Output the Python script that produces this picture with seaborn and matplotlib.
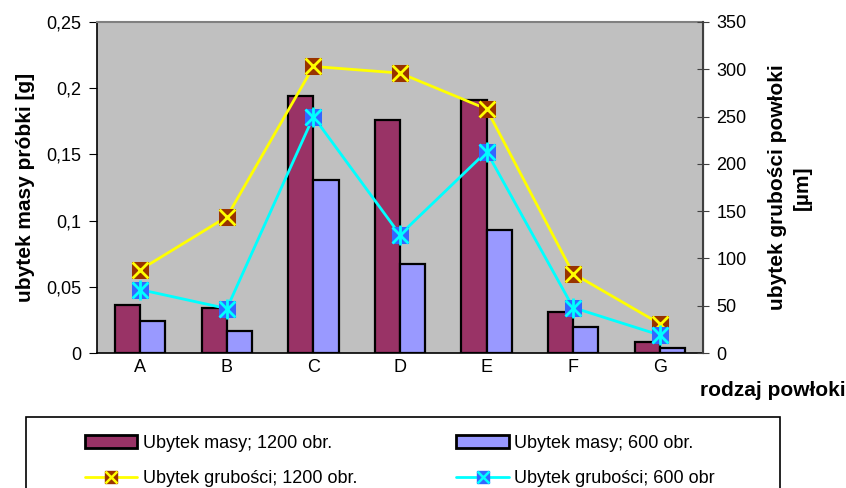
import numpy as np
import pandas as pd
import matplotlib
matplotlib.use("Agg")
import matplotlib.pyplot as plt
from matplotlib.lines import Line2D
from matplotlib.patches import Patch, Rectangle
from matplotlib.legend_handler import HandlerTuple
from matplotlib.ticker import FuncFormatter, MultipleLocator
import seaborn as sns

# data
categories = ["A", "B", "C", "D", "E", "F", "G"]
mass_1200 = [0.036, 0.034, 0.194, 0.176, 0.191, 0.031, 0.008]
mass_600 = [0.024, 0.0165, 0.131, 0.067, 0.093, 0.020, 0.004]
thick_1200 = [88, 144, 303, 296, 258, 84, 31]
thick_600 = [67, 47, 250, 125, 213, 48, 19]

lab_m1200 = "Ubytek masy; 1200 obr."
lab_m600 = "Ubytek masy; 600 obr."
lab_t1200 = "Ubytek grubości; 1200 obr."
lab_t600 = "Ubytek grubości; 600 obr"

sns.set_style("white")
plt.rcParams["font.family"] = ["Liberation Sans", "DejaVu Sans"]
plt.rcParams.update({"text.color": "black", "axes.labelcolor": "black",
                     "xtick.color": "black", "ytick.color": "black"})

df = pd.DataFrame({
    "cat": categories * 2,
    "val": mass_1200 + mass_600,
    "series": [lab_m1200] * len(categories) + [lab_m600] * len(categories),
})

fig = plt.figure(figsize=(8.46, 4.88), dpi=100)
ax = fig.add_axes([97 / 846, 1 - 353 / 488, (703 - 97) / 846, (353 - 22) / 488])
ax.set_facecolor("#C0C0C0")

sns.barplot(data=df, x="cat", y="val", hue="series", ax=ax,
            palette=["#993366", "#9999FF"], saturation=1, edgecolor="black",
            linewidth=1.6, width=0.58, gap=0, legend=False)

ax.set_xlim(-0.5, len(categories) - 0.5)
ax.set_ylim(0, 0.25)
ax.yaxis.set_major_locator(MultipleLocator(0.05))
ax.yaxis.set_major_formatter(FuncFormatter(lambda v, p: f"{v:g}".replace(".", ",")))
ax.set_xticks(np.arange(len(categories)))
ax.set_xticklabels(categories)
ax.set_xticks(np.arange(len(categories) + 1) - 0.5, minor=True)
ax.tick_params(axis="x", which="major", length=0, pad=4, labelsize=13)
ax.tick_params(axis="x", which="minor", length=6, direction="out", color="#404040")
ax.tick_params(axis="y", length=6, direction="out", labelsize=13, left=True,
               color="black", pad=5)
ax.set_xlabel("")
ax.set_ylabel("ubytek masy próbki [g]", fontsize=15, fontweight="bold")
ax.yaxis.set_label_coords(-0.102, 0.5)

for side in ["left", "bottom"]:
    ax.spines[side].set_color("black")
    ax.spines[side].set_linewidth(1.2)
ax.spines["top"].set_color("#808080")
ax.spines["top"].set_linewidth(1.5)

ax2 = ax.twinx()
pos = np.arange(len(categories))
sns.lineplot(x=pos, y=thick_1200, ax=ax2, color="#FFFF00", linewidth=2,
             marker="s", markersize=12, markerfacecolor="#993300",
             markeredgecolor="#993300")
ax2.plot(pos, thick_1200, ls="none", marker="x", ms=12, mec="#FFFF00", mew=2)
sns.lineplot(x=pos, y=thick_600, ax=ax2, color="#00FFFF", linewidth=2,
             marker="s", markersize=12, markerfacecolor="#3366FF",
             markeredgecolor="#3366FF")
ax2.plot(pos, thick_600, ls="none", marker="x", ms=12, mec="#00FFFF", mew=2)
ax2.plot(pos, thick_600, ls="none", marker="|", ms=14, mec="#00FFFF", mew=2)

ax2.set_ylim(0, 350)
ax2.yaxis.set_major_locator(MultipleLocator(50))
ax2.tick_params(axis="y", length=9, direction="inout", labelsize=13, right=True,
                color="#404040", pad=5)
ax2.set_ylabel("ubytek grubości powłoki\n[µm]", fontsize=15, fontweight="bold",
               linespacing=1.35)
ax2.yaxis.set_label_coords(1.108, 0.5)
ax2.spines["right"].set_color("#404040")
ax2.spines["right"].set_linewidth(1.5)
for side in ["left", "top", "bottom"]:
    ax2.spines[side].set_visible(False)

fig.text(773 / 846, 1 - 390 / 488, "rodzaj powłoki", fontsize=15,
         fontweight="bold", ha="center", va="center")

# legend frame and entries
fig.patches.append(Rectangle((26 / 846, -0.1), (780 - 26) / 846, 0.1 + 1 - 417 / 488,
                             transform=fig.transFigure, fill=False,
                             edgecolor="black", linewidth=1.2))

h_m1200 = Patch(facecolor="#993366", edgecolor="black", linewidth=2)
h_m600 = Patch(facecolor="#9999FF", edgecolor="black", linewidth=2)
h_t1200 = (Line2D([], [], color="#FFFF00", lw=2, marker="s", ms=9,
                  mfc="#993300", mec="#993300"),
           Line2D([], [], ls="none", marker="x", ms=9, mec="#FFFF00", mew=1.8))
h_t600 = (Line2D([], [], color="#00FFFF", lw=2, marker="s", ms=9,
                 mfc="#3366FF", mec="#3366FF"),
          Line2D([], [], ls="none", marker="x", ms=9, mec="#00FFFF", mew=1.8))

fig.legend([h_m1200, h_t1200, h_m600, h_t600],
           [lab_m1200, lab_t1200, lab_m600, lab_t600],
           ncol=2, loc="upper left", bbox_to_anchor=(76 / 846, 1 - 426 / 488),
           frameon=False, borderpad=0, fontsize=13, handlelength=2.9,
           handleheight=0.7, handletextpad=0.3, labelspacing=1.0,
           columnspacing=5.5, handler_map={tuple: HandlerTuple(ndivide=1)})

fig.savefig("out.png", dpi=100)
